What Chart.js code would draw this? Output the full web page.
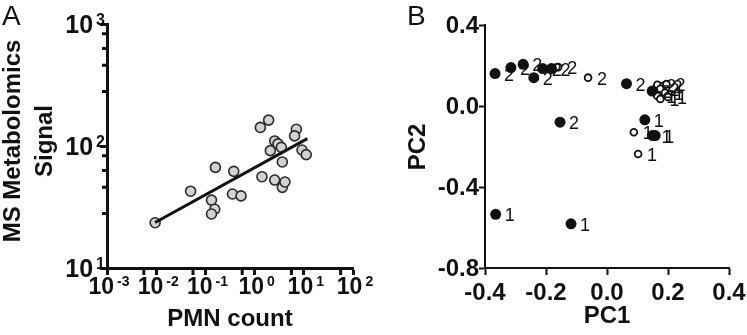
<!DOCTYPE html>
<html>
<head>
<meta charset="utf-8">
<script src="https://cdn.jsdelivr.net/npm/chart.js@4.4.1/dist/chart.umd.min.js"></script>
<style>
body { margin: 0; background: #fff; }
#wrap { position: relative; width: 747px; height: 335px; }
.panel { position: absolute; top: 0; height: 335px; }
</style>
</head>
<body>
<div id="wrap">
  <div class="panel" style="left:0;width:380px"><canvas id="chartA"></canvas></div>
  <div class="panel" style="left:380px;width:367px"><canvas id="chartB"></canvas></div>
</div>
<script>
// ---- Panel A data: PMN count vs MS signal (log-log) ----
const pmnCount = [0.0095, 0.05, 0.133, 0.155, 0.133, 0.16, 0.377, 0.355, 0.53, 1.41, 1.31, 1.93,
                  2.09, 2.56, 2.99, 3.5, 2.56, 3.66, 4.14, 3.66, 7.05, 6.5, 9.2, 11.2];
const msSignal = [23.5, 42.6, 36, 30.3, 27.7, 66.8, 62, 40.4, 39, 56, 142, 163,
                  91.6, 110, 104, 97.5, 52.6, 45.8, 50.7, 74, 137, 121, 92.7, 85];
// regression line end points
const fitX = [0.0095, 11.8];
const fitY = [23.6, 115];
// axis ticks
const xMajorA = [0.001, 0.01, 0.1, 1, 10, 100];
const xMinorA = [0.0056, 0.056, 0.56, 5.6, 56];
const yMajorA = [10, 100, 1000];
const yMinorA = [28, 46, 63, 83, 280, 460, 630, 830];

// ---- Panel B data: PCA scores ----
const pc1Filled = [-0.367, -0.315, -0.275, -0.240, -0.211, -0.182, 0.064, -0.154, 0.148,
                   0.124, 0.149, 0.158, -0.365, -0.118];
const pc2Filled = [0.160, 0.190, 0.206, 0.140, 0.185, 0.185, 0.110, -0.080, 0.074,
                   -0.068, -0.146, -0.146, -0.535, -0.582];
const labelFilled = ['2', '2', '2', '2', '2', '2', '2', '2', '2', '1', '1', '1', '1', '1'];
const pc1Open = [-0.160, -0.062, 0.088, 0.102, 0.165, 0.185, 0.195, 0.175, 0.190, 0.200, 0.165, 0.175];
const pc2Open = [0.192, 0.140, -0.130, -0.237, 0.105, 0.100, 0.108, 0.085, 0.065, 0.045, 0.050, 0.035];
const labelOpen = ['2', '2', '1', '1', '2', '2', '2', '2', '1', '1', '1', '1'];
const xTicksB = [-0.4, -0.2, 0.0, 0.2, 0.4];
const yTicksB = [0.4, 0.0, -0.4, -0.8];

const FONT = '"Liberation Sans", Arial, Helvetica, sans-serif';
const INK = '#111';

Chart.defaults.font.family = FONT;
Chart.defaults.animation = false;

// draws "10" with a raised exponent
function drawPower(ctx, exp, x, y, align, size) {
    const expSize = Math.round(size * 0.62);
    ctx.font = 'bold ' + size + 'px ' + FONT;
    const wb = ctx.measureText('10').width;
    ctx.font = 'bold ' + expSize + 'px ' + FONT;
    const we = ctx.measureText(exp).width;
    const gap = 3;
    const total = wb + gap + we;
    const left = align === 'center' ? x - total / 2 : x - total;
    ctx.textAlign = 'left';
    ctx.textBaseline = 'alphabetic';
    ctx.font = 'bold ' + size + 'px ' + FONT;
    ctx.fillText('10', left, y);
    ctx.font = 'bold ' + expSize + 'px ' + FONT;
    ctx.fillText(exp, left + wb + gap, y - Math.round(size * 0.33));
}

function rotatedText(ctx, text, x, y) {
    ctx.save();
    ctx.translate(x, y);
    ctx.rotate(-Math.PI / 2);
    ctx.textAlign = 'center';
    ctx.textBaseline = 'alphabetic';
    ctx.fillText(text, 0, 0);
    ctx.restore();
}

function axisOptions(extra) {
    return Object.assign({
        display: true,
        grid: { display: true, drawOnChartArea: false, drawTicks: true, tickLength: 7, tickWidth: 3, tickColor: INK },
        border: { display: true, color: INK, width: 3 },
        ticks: { display: false }
    }, extra);
}

// Panel A: minor ticks, tick labels, titles
const panelAPlugin = {
    id: 'panelA',
    afterDraw(chart) {
        const ctx = chart.ctx;
        const xs = chart.scales.x;
        const ys = chart.scales.y;
        const area = chart.chartArea;
        ctx.save();
        ctx.fillStyle = INK;
        ctx.strokeStyle = INK;
        ctx.lineWidth = 3;
        ctx.beginPath();
        yMinorA.forEach(v => {
            const py = ys.getPixelForValue(v);
            ctx.moveTo(area.left - 5, py);
            ctx.lineTo(area.left, py);
        });
        xMinorA.forEach(v => {
            const px = xs.getPixelForValue(v);
            ctx.moveTo(px, area.bottom);
            ctx.lineTo(px, area.bottom + 7);
        });
        ctx.stroke();

        xMajorA.forEach(v => {
            drawPower(ctx, String(Math.round(Math.log10(v))), xs.getPixelForValue(v) + 2, 294, 'center', 23);
        });
        yMajorA.forEach(v => {
            drawPower(ctx, String(Math.round(Math.log10(v))), 105, ys.getPixelForValue(v) + 9, 'right', 25);
        });

        ctx.font = 'bold 24px ' + FONT;
        rotatedText(ctx, 'MS Metabolomics', 20, 141);
        rotatedText(ctx, 'Signal', 52, 141);
        ctx.textAlign = 'center';
        ctx.fillText('PMN count', (area.left + area.right) / 2, 326);

        ctx.font = '28px ' + FONT;
        ctx.textAlign = 'left';
        ctx.fillText('A', 2, 25);
        ctx.restore();
    }
};

// Panel B: tick labels, titles, point labels
const panelBPlugin = {
    id: 'panelB',
    afterDraw(chart) {
        const ctx = chart.ctx;
        const xs = chart.scales.x;
        const ys = chart.scales.y;
        const area = chart.chartArea;
        ctx.save();
        ctx.fillStyle = INK;

        // point labels
        ctx.font = '18px ' + FONT;
        ctx.textAlign = 'left';
        ctx.textBaseline = 'alphabetic';
        const groups = [labelFilled, labelOpen];
        groups.forEach((labels, di) => {
            chart.getDatasetMeta(di).data.forEach((pt, i) => {
                ctx.fillText(labels[i], pt.x + 9, pt.y + 7);
            });
        });

        ctx.font = 'bold 24px ' + FONT;
        ctx.textAlign = 'center';
        xTicksB.forEach(v => ctx.fillText(v.toFixed(1), xs.getPixelForValue(v), 300));
        ctx.textAlign = 'right';
        ctx.textBaseline = 'middle';
        yTicksB.forEach(v => ctx.fillText(v.toFixed(1), area.left - 6, ys.getPixelForValue(v) + 1));

        ctx.textBaseline = 'alphabetic';
        ctx.font = 'bold 24px ' + FONT;
        rotatedText(ctx, 'PC2', 45, 147);
        ctx.textAlign = 'center';
        ctx.fillText('PC1', (area.left + area.right) / 2, 323);

        ctx.font = '28px ' + FONT;
        ctx.textAlign = 'left';
        ctx.fillText('B', 27, 25);
        ctx.restore();
    }
};

// ---- Chart A ----
new Chart(document.getElementById('chartA'), {
    type: 'scatter',
    data: {
        datasets: [
            {
                type: 'line',
                data: fitX.map((x, i) => ({ x: x, y: fitY[i] })),
                borderColor: INK,
                borderWidth: 3,
                pointRadius: 0,
                fill: false
            },
            {
                data: pmnCount.map((x, i) => ({ x: x, y: msSignal[i] })),
                pointRadius: 5,
                pointBackgroundColor: '#d2d2d2',
                pointBorderColor: '#2a2a2a',
                pointBorderWidth: 1.6
            }
        ]
    },
    options: {
        responsive: true,
        maintainAspectRatio: false,
        layout: { padding: { left: 0, top: 24, right: 27, bottom: 0 } },
        plugins: { legend: { display: false }, tooltip: { enabled: false } },
        scales: {
            x: axisOptions({
                type: 'logarithmic', min: 0.001, max: 100,
                afterBuildTicks: s => { s.ticks = xMajorA.map(v => ({ value: v })); },
                afterFit: s => { s.height = 67; }
            }),
            y: axisOptions({
                type: 'logarithmic', min: 10, max: 1000,
                afterBuildTicks: s => { s.ticks = yMajorA.map(v => ({ value: v })); },
                afterFit: s => { s.width = 107; }
            })
        }
    },
    plugins: [panelAPlugin]
});

// ---- Chart B ----
new Chart(document.getElementById('chartB'), {
    type: 'scatter',
    data: {
        datasets: [
            {
                data: pc1Filled.map((x, i) => ({ x: x, y: pc2Filled[i] })),
                pointRadius: 5.5,
                pointBackgroundColor: INK,
                pointBorderWidth: 0
            },
            {
                data: pc1Open.map((x, i) => ({ x: x, y: pc2Open[i] })),
                pointRadius: 3.4,
                pointBackgroundColor: '#fff',
                pointBorderColor: INK,
                pointBorderWidth: 1.8
            }
        ]
    },
    options: {
        responsive: true,
        maintainAspectRatio: false,
        layout: { padding: { left: 0, top: 25, right: 18, bottom: 0 } },
        plugins: { legend: { display: false }, tooltip: { enabled: false } },
        scales: {
            x: axisOptions({
                type: 'linear', min: -0.4, max: 0.4,
                grid: { display: true, drawOnChartArea: false, tickLength: 7, tickWidth: 2, tickColor: INK },
                border: { display: true, color: INK, width: 2 },
                afterBuildTicks: s => { s.ticks = xTicksB.map(v => ({ value: v })); },
                afterFit: s => { s.height = 67; }
            }),
            y: axisOptions({
                type: 'linear', min: -0.8, max: 0.4,
                grid: { display: true, drawOnChartArea: false, tickLength: 6, tickWidth: 2, tickColor: INK },
                border: { display: true, color: INK, width: 2 },
                afterBuildTicks: s => { s.ticks = yTicksB.map(v => ({ value: v })); },
                afterFit: s => { s.width = 105; }
            })
        }
    },
    plugins: [panelBPlugin]
});
</script>
</body>
</html>
